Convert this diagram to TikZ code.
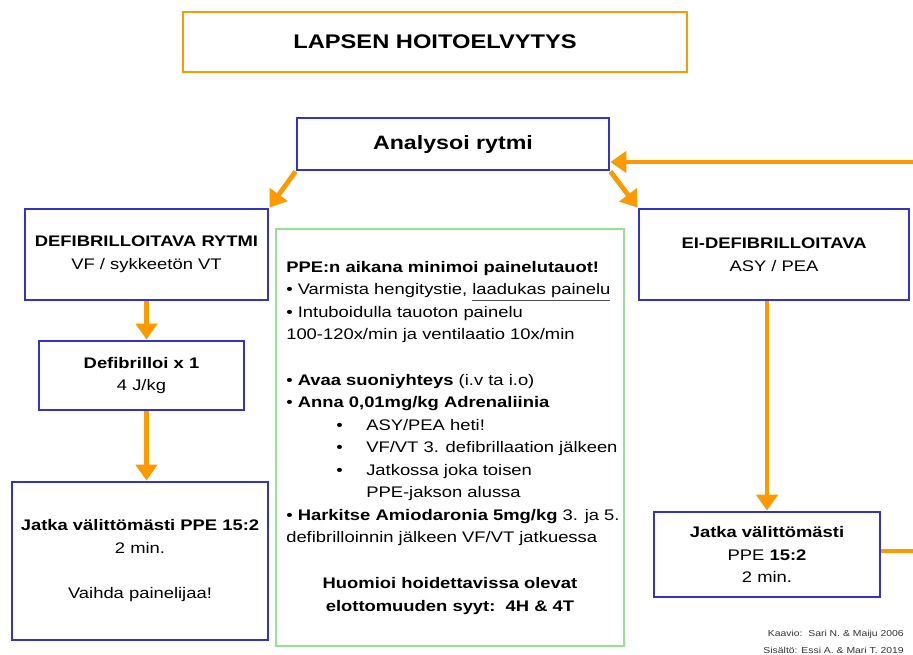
\documentclass[tikz,border=0pt]{standalone}
\usepackage{fontspec}
\setmainfont{Liberation Sans}[FakeStretch=1.2]
\usetikzlibrary{arrows.meta}

\definecolor{elvyblue}{RGB}{51,51,204}
\definecolor{elvyorange}{RGB}{255,153,0}
\definecolor{elvygreen}{RGB}{150,225,150}

% pienemmat alakohdat
\newcommand{\alakohta}[1]{\hspace*{37.5pt}\makebox[22.5pt][l]{•}#1}

\begin{document}
\begin{tikzpicture}[
    x=0.75pt,y=-0.75pt,
    flow/.style={-{Triangle[length=12pt,width=16pt]}, line width=3.6pt, draw=elvyorange},
    vaihe/.style={
        draw=elvyblue,
        line width=2.2pt,
        fill=white,
        align=center,
        inner sep=0pt,
        font=\fontsize{11.5}{17}\selectfont
    },
    teksti/.style={inner sep=0pt, font=\fontsize{11.5}{16.9}\selectfont}
]
    \useasboundingbox (0,0) rectangle (913,654);

    \node[draw=elvyorange, line width=2.2pt, minimum width=378pt, minimum height=45pt,
        font=\fontsize{14.8}{18}\selectfont\bfseries] (otsikko) at (435,42) {LAPSEN HOITOELVYTYS};

    \node[vaihe, minimum width=234pt, minimum height=39pt,
        font=\fontsize{14.5}{18}\selectfont\bfseries] (analyysi) at (453,144) {Analysoi rytmi};

    \node[vaihe, minimum width=182.25pt, minimum height=68.25pt] (defib) at (146.5,254.5)
        {\textbf{DEFIBRILLOITAVA RYTMI}\\VF / sykkeetön VT};
    \node[vaihe, minimum width=202.5pt, minimum height=68.25pt] (eidefib) at (774,254.5)
        {\textbf{EI-DEFIBRILLOITAVA}\\ASY / PEA};

    \node[vaihe, minimum width=153.75pt, minimum height=51.75pt] (isku) at (141.5,375.5)
        {\textbf{Defibrilloi x 1}\\4 J/kg};
    \node[vaihe, minimum width=192pt, minimum height=118.5pt] (jatkavasen) at (140,561)
        {\textbf{Jatka välittömästi PPE 15:2}\\2 min.\\[17pt]Vaihda painelijaa!};
    \node[vaihe, minimum width=169.5pt, minimum height=63.75pt] (jatkaoikea) at (767,554.5)
        {\textbf{Jatka välittömästi}\\PPE \textbf{15:2}\\2 min.};

    \node[draw=elvygreen, line width=0.8pt, minimum width=261pt, minimum height=312.75pt] (ohje) at (450,437.5) {};

    \node[teksti, anchor=north west, align=left] (ohjelista) at (286,261) {%
        \textbf{PPE:n aikana minimoi painelutauot!}\\
        • Varmista hengitystie, {\color{black!70}\underline{\color{black}laadukas painelu}}\\
        • Intuboidulla tauoton painelu\\
        100-120x/min ja ventilaatio 10x/min\\[16.9pt]
        • \textbf{Avaa suoniyhteys} (i.v ta i.o)\\
        • \textbf{Anna 0,01mg/kg Adrenaliinia}\\
        \alakohta{ASY/PEA heti!}\\
        \alakohta{VF/VT 3. defibrillaation jälkeen}\\
        \alakohta{Jatkossa joka toisen}\\
        \hspace*{60pt}PPE-jakson alussa\\
        • \textbf{Harkitse Amiodaronia 5mg/kg} 3. ja 5.\\
        defibrilloinnin jälkeen VF/VT jatkuessa};
    \node[teksti, align=center, font=\fontsize{11.5}{16.9}\selectfont\bfseries] (syyt) at (450,596)
        {Huomioi hoidettavissa olevat\\elottomuuden syyt:\ \ 4H \& 4T};

    \node[anchor=east, align=right, inner sep=0pt, text=black!80,
        font=\fontsize{6.5}{13}\selectfont] (tekijat) at (904,642)
        {Kaavio:\ \ Sari N. \& Maiju 2006\\Sisältö: Essi A. \& Mari T. 2019};

    % kierto takaisin analyysiin
    \coordinate (paluu) at (913,162);
    \coordinate (lahto) at (913,551);

    \draw[flow] (analyysi.south west) -- (defib.north east);
    \draw[flow] (analyysi.south east) -- (eidefib.north west);
    \draw[flow] (defib.south) -- (defib.south |- isku.north);
    \draw[flow] (isku.south -| defib.south) -- (defib.south |- jatkavasen.north);
    \draw[flow] (jatkaoikea.north |- eidefib.south) -- (jatkaoikea.north);
    \draw[line width=3.6pt, draw=elvyorange] (jatkaoikea.east |- lahto) -- (lahto);
    \draw[flow] (paluu) -- (analyysi.east |- paluu);
\end{tikzpicture}
\end{document}
